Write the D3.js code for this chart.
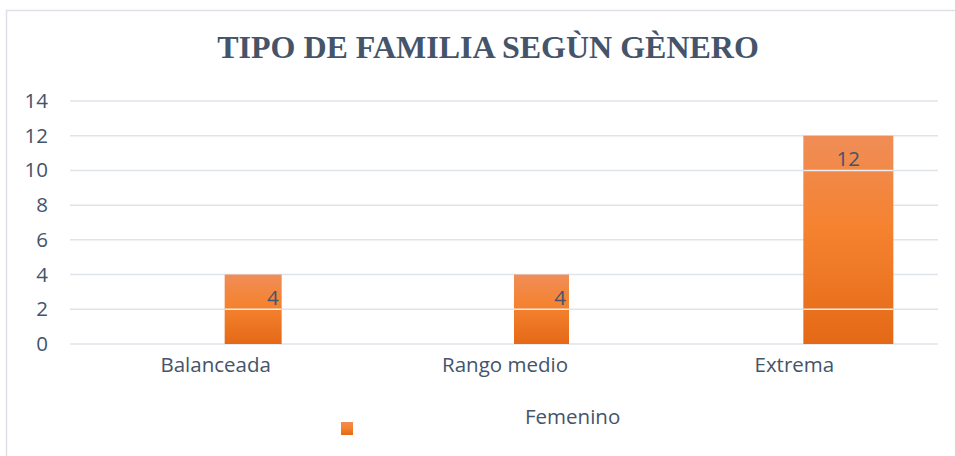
<!DOCTYPE html>
<html><head><meta charset="utf-8">
<script src="https://cdn.jsdelivr.net/npm/d3@7"></script>
<style>body{margin:0;background:#fff}svg{display:block}</style>
</head><body>
<svg id="c" width="955" height="456"></svg>
<script>
const title = "TIPO DE FAMILIA SEGÙN GÈNERO";
const categories = ["Balanceada", "Rango medio", "Extrema"];
const femenino = [4, 4, 12];
const yTicks = [0, 2, 4, 6, 8, 10, 12, 14];
const seriesName = "Femenino";
const overlayLines = [2, 10];
const barWidthsPx = [57, 55, 90];

const svg = d3.select("#c");
const W = 955, H = 456;
const m = {l: 70, r: 17, t: 101, b: 112};
const textCol = "#44546A";
const sans = "'Open Sans', 'Noto Sans', sans-serif";
const fs = 20.5;

// border
svg.append("path").attr("d", `M6.5,${H} V10.5 H${W}`).attr("fill", "none")
  .attr("stroke", "#dde1e7").attr("stroke-width", 1.5);

const defs = svg.append("defs");
const g = defs.append("linearGradient").attr("id", "og").attr("x1", 0).attr("y1", 0).attr("x2", 0).attr("y2", 1);
g.append("stop").attr("offset", "0%").attr("stop-color", "#F08D57");
g.append("stop").attr("offset", "45%").attr("stop-color", "#F5822F");
g.append("stop").attr("offset", "100%").attr("stop-color", "#E46916");

const x = d3.scaleBand().domain(categories).range([m.l, W - m.r]);
const y = d3.scaleLinear().domain([0, 14]).range([344, 101]);

svg.append("text").attr("x", 488).attr("y", 58).attr("text-anchor", "middle")
  .attr("font-family", "'Liberation Serif', 'Times New Roman', serif").attr("font-weight", "bold")
  .attr("font-size", 32).attr("fill", textCol).text(title);

// grid
svg.append("g").selectAll("line").data(yTicks).join("line")
  .attr("x1", m.l).attr("x2", W - m.r)
  .attr("y1", d => y(d)).attr("y2", d => y(d))
  .attr("stroke", "#dfe3ea").attr("stroke-width", 1.5);

// y axis labels
const yAxis = d3.axisLeft(y).tickValues(yTicks).tickSize(0).tickPadding(0);
const ya = svg.append("g").attr("transform", `translate(48,0)`).call(yAxis);
ya.select(".domain").remove();
ya.selectAll("text").attr("font-family", sans).attr("font-size", fs).attr("fill", textCol);

// x axis labels
const xAxis = d3.axisBottom(x).tickSize(0).tickPadding(0);
const xa = svg.append("g").attr("transform", `translate(1,${353})`).call(xAxis);
xa.select(".domain").remove();
xa.selectAll("text").attr("font-family", sans).attr("font-size", fs).attr("fill", textCol).attr("dy", "0.95em");

// bars
const barX = (d, i) => x(categories[i]) + x.bandwidth() / 2 + 10;
svg.append("g").selectAll("rect").data(femenino).join("rect")
  .attr("x", barX).attr("width", (d, i) => barWidthsPx[i])
  .attr("y", d => y(d)).attr("height", d => y(0) - y(d))
  .attr("fill", "url(#og)");

// overlay lines on bars
femenino.forEach((v, i) => {
  overlayLines.filter(t => t < v).forEach(t => {
    svg.append("line").attr("x1", barX(v, i)).attr("x2", barX(v, i) + barWidthsPx[i])
      .attr("y1", y(t)).attr("y2", y(t)).attr("stroke", "#ecedf1").attr("stroke-width", 1.5);
  });
});

// value labels
svg.append("g").selectAll("text").data(femenino).join("text")
  .attr("x", (d, i) => i < 2 ? barX(d, i) + barWidthsPx[i] - 3 : barX(d, i) + barWidthsPx[i] / 2)
  .attr("text-anchor", (d, i) => i < 2 ? "end" : "middle")
  .attr("y", d => y(d) + 30)
  .attr("font-family", sans).attr("font-size", fs).attr("fill", textCol)
  .text(d => d);

// legend
svg.append("rect").attr("x", 341).attr("y", 422).attr("width", 12).attr("height", 13).attr("fill", "url(#og)");
svg.append("text").attr("x", 525).attr("y", 424).attr("font-family", sans).attr("font-size", fs)
  .attr("fill", textCol).text(seriesName);
</script>
</body></html>
